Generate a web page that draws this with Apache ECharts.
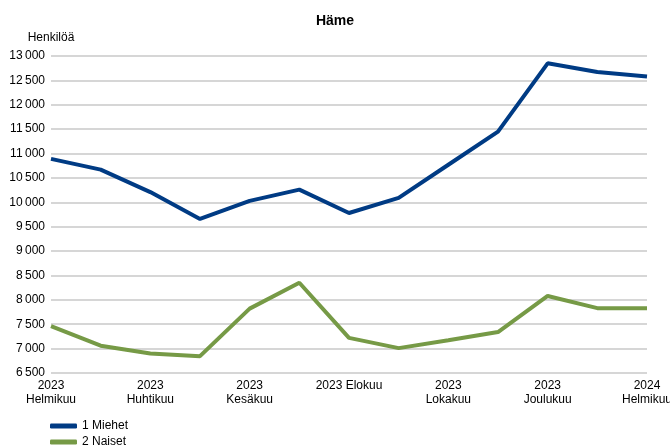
<!DOCTYPE html>
<html>
<head>
<meta charset="utf-8">
<script src="https://cdn.jsdelivr.net/npm/echarts@6/dist/echarts.min.js"></script>
<style>html,body{margin:0;padding:0;background:#fff}#c{width:670px;height:446px}</style>
</head>
<body>
<div id="c"></div>
<script>
var categories = ["2023\nHelmikuu","2023\nMaaliskuu","2023\nHuhtikuu","2023\nToukokuu","2023\nKesäkuu","2023\nHeinäkuu","2023 Elokuu","2023\nSyyskuu","2023\nLokakuu","2023\nMarraskuu","2023\nJoulukuu","2024\nTammikuu","2024\nHelmikuu"];
var miehet = [10890, 10670, 10210, 9660, 10030, 10260, 9780, 10090, 10770, 11450, 12850, 12670, 12580];
var naiset = [7460, 7060, 6900, 6845, 7820, 8350, 7220, 7010, 7170, 7340, 8080, 7830, 7830];
var seriesNames = ["1 Miehet", "2 Naiset"];

var font = "Liberation Sans, Arial, sans-serif";
function legendAt(name, top) {
  return {
    orient: 'vertical', left: 50, top: top, padding: 0,
    itemWidth: 27, itemHeight: 5, icon: 'roundRect',
    textStyle: {fontFamily: font, fontSize: 12, color: '#000'},
    data: [name]
  };
}
var chart = echarts.init(document.getElementById('c'));
chart.setOption({
  animation: false,
  title: {
    text: "Häme", left: 'center', top: 9,
    textStyle: {fontFamily: font, fontSize: 14, fontWeight: 'bold', color: '#000'}
  },
  grid: {left: 51, right: 23, top: 56, bottom: 73, containLabel: false, outerBoundsMode: 'none'},
  legend: [legendAt(seriesNames[0], 420), legendAt(seriesNames[1], 436)],
  xAxis: {
    type: 'category', boundaryGap: false, data: categories,
    axisLine: {show: false}, axisTick: {show: false},
    axisLabel: {interval: 1, color: '#000', fontFamily: font, fontSize: 12, lineHeight: 14, margin: 6}
  },
  yAxis: {
    type: 'value', min: 6500, max: 13000, interval: 500,
    name: "Henkilöä", nameLocation: 'end', nameGap: 12,
    nameTextStyle: {fontFamily: font, fontSize: 12, color: '#000', align: 'center'},
    axisLine: {show: false}, axisTick: {show: false},
    splitLine: {lineStyle: {color: '#c8c8c8', width: 1.5}},
    axisLabel: {color: '#000', fontFamily: font, fontSize: 12, margin: 6,
      formatter: function (v) { return String(v).replace(/\B(?=(\d{3})+(?!\d))/g, '\u2009'); }}
  },
  series: [
    {name: seriesNames[0], type: 'line', data: miehet, showSymbol: false, symbol: 'none',
     lineStyle: {color: '#003b84', width: 4}, itemStyle: {color: '#003b84'}},
    {name: seriesNames[1], type: 'line', data: naiset, showSymbol: false, symbol: 'none',
     lineStyle: {color: '#769a46', width: 4}, itemStyle: {color: '#769a46'}}
  ]
});
</script>
</body>
</html>
